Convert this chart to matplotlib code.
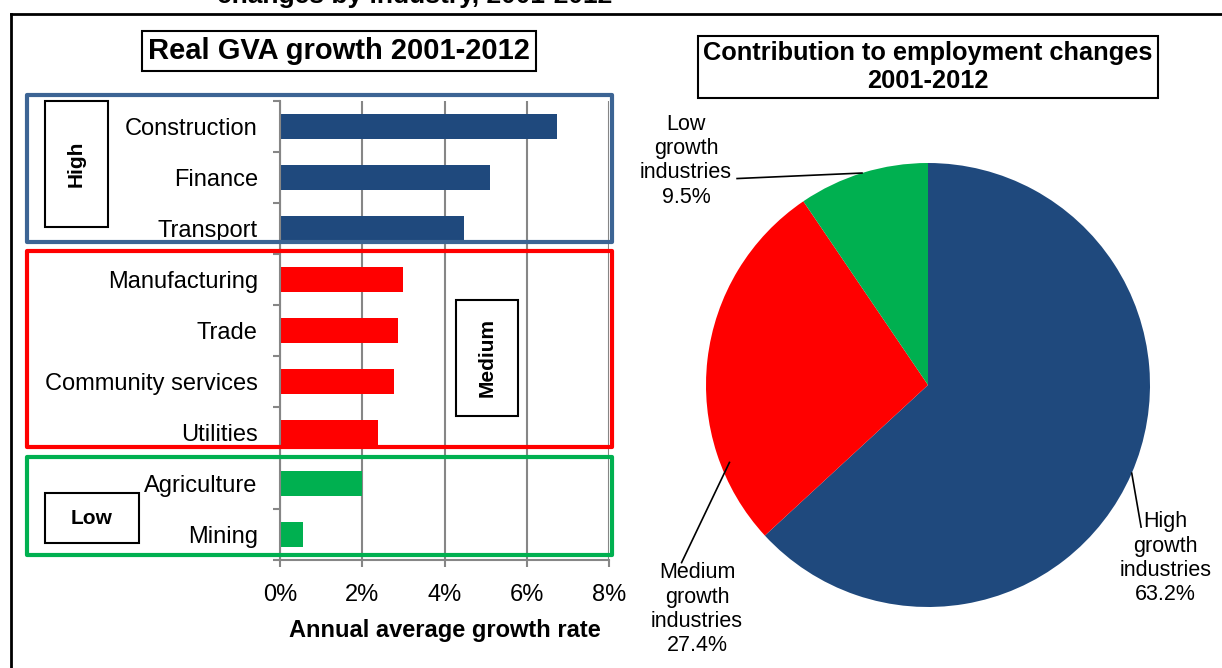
import numpy as np
import matplotlib
matplotlib.use("Agg")
import matplotlib.pyplot as plt
from matplotlib.patches import Rectangle
from matplotlib.lines import Line2D
import matplotlib.transforms as mtransforms

plt.rcParams['font.family'] = ['Liberation Sans', 'DejaVu Sans']

# data
industries = ['Construction', 'Finance', 'Transport', 'Manufacturing', 'Trade',
              'Community services', 'Utilities', 'Agriculture', 'Mining']
growth = [6.73, 5.10, 4.47, 2.98, 2.86, 2.77, 2.38, 1.99, 0.55]
group = ['High', 'High', 'High', 'Medium', 'Medium', 'Medium', 'Medium', 'Low', 'Low']
xticks = [0, 2, 4, 6, 8]

pie_labels = ['High\ngrowth\nindustries', 'Medium\ngrowth\nindustries', 'Low\ngrowth\nindustries']
pie_share = [63.2, 27.4, 9.5]

BLUE = '#1F497D'
RED = '#FF0000'
GREEN = '#00B050'
colors = {'High': BLUE, 'Medium': RED, 'Low': GREEN}
box_edge = {'High': '#3C6494', 'Medium': RED, 'Low': GREEN}
GRAY = '#868686'

W, H = 1222, 668
fig = plt.figure(figsize=(W / 100, H / 100), dpi=100)


def fx(x):
    return x / W


def fy(y):
    return 1 - y / H


# ---- bar chart ----
ax = fig.add_axes([fx(280), fy(560), fx(609) - fx(280), fy(101) - fy(560)])
ypos = np.arange(len(industries))
ax.barh(ypos, growth, height=0.5, color=[colors[g] for g in group], zorder=2)
ax.set_xlim(0, 8)
ax.set_ylim(len(industries) - 0.5, -0.5)
ax.set_xticks(xticks)
ax.set_xticklabels([f'{t}%' for t in xticks], fontsize=17)
ax.set_yticks(ypos)
ax.set_yticklabels(industries, fontsize=17)
ax.set_yticks(np.arange(-0.5, len(industries), 1), minor=True)
ax.tick_params(axis='y', which='major', length=0, pad=16)
ax.tick_params(axis='y', which='minor', length=5, width=1.5, color=GRAY)
ax.tick_params(axis='x', length=5, width=1.5, color=GRAY, pad=12)
ax.grid(axis='x', color=GRAY, lw=1.5, zorder=0)
for s in ['top', 'right']:
    ax.spines[s].set_visible(False)
for s in ['left', 'bottom']:
    ax.spines[s].set_color(GRAY)
    ax.spines[s].set_linewidth(1.5)
ax.set_xlabel('Annual average growth rate', fontsize=17, fontweight='bold', labelpad=10)

# group boxes (y in data, x in figure)
trans = mtransforms.blended_transform_factory(fig.transFigure, ax.transData)
spans = {'High': (-0.62, 2.26), 'Medium': (2.44, 6.28), 'Low': (6.48, 8.40)}
for g, (y0, y1) in spans.items():
    fig.add_artist(Rectangle((fx(27), y0), fx(612) - fx(27), y1 - y0, transform=trans,
                             fill=False, ec=box_edge[g], lw=3, joinstyle='round',
                             clip_on=False, zorder=5))

# group tags
def tag(x0, y0, x1, y1, text, rot):
    fig.add_artist(Rectangle((fx(x0), fy(y1)), fx(x1) - fx(x0), fy(y0) - fy(y1),
                             transform=fig.transFigure, fill=False, ec='black', lw=1.5))
    fig.text(fx((x0 + x1) / 2), fy((y0 + y1) / 2), text, rotation=rot, ha='center',
             va='center', fontsize=15, fontweight='bold')


tag(45, 101, 108, 227, 'High', 90)
tag(456, 300, 518, 416, 'Medium', 90)
tag(45, 493, 139, 543, 'Low', 0)

# ---- pie ----
ax2 = fig.add_axes([fx(706), fy(607), fx(1150) - fx(706), fy(163) - fy(607)])
ax2.pie(pie_share, colors=[BLUE, RED, GREEN], startangle=90, counterclock=False,
        radius=1, wedgeprops=dict(linewidth=0))
ax2.set_xlim(-1, 1)
ax2.set_ylim(-1, 1)
ax2.set_aspect('equal')
ax2.axis('off')

# label layout: text centre, leader end, anchor angle on arc
label_layout = [((1.07, -0.78), (0.96, -0.64), -23.4, 1.0),
                ((-1.04, -1.01), (-1.11, -0.80), 201.3, 0.96),
                ((-1.09, 1.01), (-0.86, 0.93), 107.3, 1.0)]
for lab, val, (tpos, lend, ang, r) in zip(pie_labels, pie_share, label_layout):
    a = np.deg2rad(ang)
    ax2.plot([r * np.cos(a), lend[0]], [r * np.sin(a), lend[1]], color='black', lw=1.2,
             clip_on=False)
    ax2.text(tpos[0], tpos[1], f'{lab}\n{val:.1f}%', ha='center', va='center',
             fontsize=15.5, linespacing=1.2, clip_on=False)

# ---- titles ----
fig.text(fx(339), fy(51), 'Real GVA growth 2001-2012', ha='center', va='center',
         fontsize=21, fontweight='bold',
         bbox=dict(boxstyle='square,pad=0.2', fc='white', ec='black', lw=1.5))
fig.text(fx(928), fy(67), 'Contribution to employment changes\n2001-2012', ha='center',
         va='center', fontsize=18.3, fontweight='bold', linespacing=1.25,
         bbox=dict(boxstyle='square,pad=0.2', fc='white', ec='black', lw=1.5))
fig.text(fx(415), fy(3), 'changes by industry, 2001-2012', ha='center', va='baseline',
         fontsize=19, fontweight='bold')

# frame lines
fig.add_artist(Line2D([fx(11), 1], [fy(13.5), fy(13.5)], color='black', lw=2))
fig.add_artist(Line2D([fx(11), fx(11)], [fy(13.5), 0], color='black', lw=2))

fig.savefig('out.png', dpi=100)
